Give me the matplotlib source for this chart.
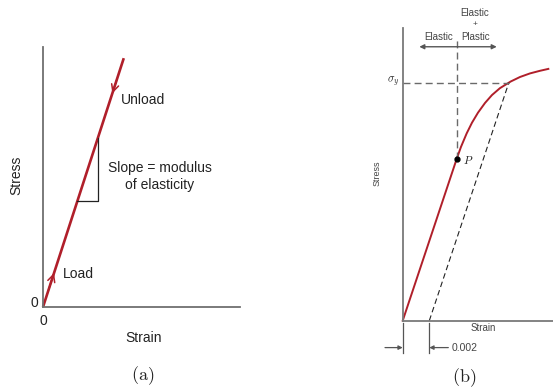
import matplotlib
matplotlib.use("Agg")
import matplotlib.pyplot as plt

plt.rcParams['font.family'] = ['Liberation Sans', 'DejaVu Sans']
plt.rcParams['mathtext.fontset'] = 'cm'

# ---------------- data ----------------
# Panel (a): linear elastic loading / unloading
strain_a = [0.0, 0.41]
stress_a = [0.0, 0.957]
tri_strain = [0.175, 0.278]          # slope triangle corners (strain)

# Panel (b): stress-strain curve with proportional limit P and 0.002 offset yield
strain_b = [0.0, 0.00406, 0.00438, 0.00481, 0.00521, 0.00566, 0.00619, 0.00671,
            0.00731, 0.00812, 0.00882, 0.00957, 0.01032, 0.01095]
stress_b = [0.0, 0.680, 0.730, 0.787, 0.832, 0.874, 0.915, 0.948,
            0.977, 1.005, 1.024, 1.039, 1.050, 1.058]
P_strain, P_stress = 0.00406, 0.680
sigma_y = 1.0
yield_strain = 0.00798
offset = 0.002

RED = '#b01f2a'
GRAY = '#707070'

fig = plt.figure(figsize=(5.53, 3.91), dpi=100)

# ---------------- panel (a) ----------------
W, H = 553.0, 391.0
ax = fig.add_axes([43 / W, (H - 307) / H, 197 / W, 260 / H])
ax.set_xlim(0, 1)
ax.set_ylim(0, 1)
for s in ['top', 'right']:
    ax.spines[s].set_visible(False)
for s in ['left', 'bottom']:
    ax.spines[s].set_color(GRAY)
    ax.spines[s].set_linewidth(1.3)
ax.set_xticks([])
ax.set_yticks([])
ax.patch.set_alpha(0)

ax.plot(strain_a, stress_a, color=RED, lw=1.9, clip_on=False, solid_capstyle='butt')
slope = stress_a[1] / strain_a[1]
x0, x1 = tri_strain
ax.plot([x0, x1, x1], [slope * x0, slope * x0, slope * x1], color='#222222', lw=0.9)

# direction chevrons
def chevron(axis, xa, xb, color, ms, lw):
    axis.annotate('', xy=(xb, slope * xb), xytext=(xa, slope * xa),
                  arrowprops=dict(arrowstyle='->', color=color, lw=lw,
                                  mutation_scale=ms, shrinkA=0, shrinkB=0))
chevron(ax, 0.375, 0.352, RED, 13, 1.1)
chevron(ax, 0.028, 0.056, RED, 13, 1.1)

fs = 10
ax.text(0.394, 0.796, 'Unload', fontsize=fs, ha='left', va='center', color='#222222')
ax.text(0.594, 0.503, 'Slope = modulus\nof elasticity', fontsize=fs, ha='center',
        va='center', multialignment='center', linespacing=1.25, color='#222222')
ax.text(0.102, 0.127, 'Load', fontsize=fs, ha='left', va='center', color='#222222')
ax.text(-0.044, 0.017, '0', fontsize=fs, ha='center', va='center', color='#222222', clip_on=False)
ax.text(0.0, -0.054, '0', fontsize=fs, ha='center', va='center', color='#222222', clip_on=False)
ax.text(0.513, -0.118, 'Strain', fontsize=fs, ha='center', va='center', color='#222222')
ax.text(-0.134, 0.508, 'Stress', fontsize=fs, ha='center', va='center', rotation=90, color='#222222')
ax.text(0.508, -0.265, r'$\mathrm{(a)}$', fontsize=13, ha='center', va='center', color='#222222')

# ---------------- panel (b) ----------------
px_strain = offset / 26.6      # strain per pixel
px_stress = 1.0 / 238.0        # stress per pixel
bx = fig.add_axes([402.7 / W, (H - 320.7) / H, 150.3 / W, 292.4 / H])
bx.set_xlim(0, 150.3 * px_strain)
bx.set_ylim(0, 292.4 * px_stress)
for s in ['top', 'right']:
    bx.spines[s].set_visible(False)
for s in ['left', 'bottom']:
    bx.spines[s].set_color('#7a7a7a')
    bx.spines[s].set_linewidth(1.3)
bx.set_xticks([])
bx.set_yticks([])
bx.patch.set_alpha(0)

DG = '#6a6a6a'
bx.plot(strain_b, stress_b, color=RED, lw=1.4, clip_on=False)
bx.plot([offset, yield_strain], [0, sigma_y], color='#222222', lw=0.8,
        ls=(0, (5, 3)))
bx.plot([0, yield_strain], [sigma_y, sigma_y], color=DG, lw=1.0, ls=(0, (5, 3)))
bx.plot([P_strain, P_strain], [P_stress, 1.188], color=DG, lw=1.0, ls=(0, (5, 3)),
        clip_on=False)
bx.plot([P_strain], [P_stress], 'o', color='black', ms=3.5)

fb = 7
bx.annotate('', xy=(0.00125, 1.151), xytext=(0.00707, 1.151),
            arrowprops=dict(arrowstyle='<|-|>', color='#555555', lw=1.0,
                            mutation_scale=7, shrinkA=0, shrinkB=0),
            annotation_clip=False)
bx.text(0.00544, 1.294, 'Elastic', fontsize=fb, ha='center', va='center', color='#444444')
bx.text(0.00544, 1.246, '+', fontsize=fb - 1, ha='center', va='center', color='#444444')
bx.text(0.00376, 1.193, 'Elastic', fontsize=fb, ha='right', va='center', color='#444444')
bx.text(0.00438, 1.193, 'Plastic', fontsize=fb, ha='left', va='center', color='#444444')
bx.text(-0.00028, sigma_y + 0.004, r'$\sigma_y$', fontsize=8, ha='right', va='center', color='#222222')
bx.text(0.00455, P_stress - 0.005, r'$P$', fontsize=8, ha='left', va='center', color='#222222')
bx.text(-0.0019, 0.62, 'Stress', fontsize=fb - 0.5, ha='center', va='center', rotation=90, color='#444444')
bx.text(0.00602, -0.032, 'Strain', fontsize=fb, ha='center', va='center', color='#444444')

# 0.002 offset dimension
for xv in [0.0, offset]:
    bx.plot([xv, xv], [-0.0097, -0.134], color='#555555', lw=0.9, clip_on=False)
bx.annotate('', xy=(0.0, -0.113), xytext=(-0.00133, -0.113),
            arrowprops=dict(arrowstyle='-|>', color='#555555', lw=0.9,
                            mutation_scale=6, shrinkA=0, shrinkB=0),
            annotation_clip=False)
bx.annotate('', xy=(offset, -0.113), xytext=(0.00343, -0.113),
            arrowprops=dict(arrowstyle='-|>', color='#555555', lw=0.9,
                            mutation_scale=6, shrinkA=0, shrinkB=0),
            annotation_clip=False)
bx.text(0.00368, -0.113, '0.002', fontsize=fb + 0.5, ha='left', va='center', color='#444444')
bx.text(0.00461, -0.241, r'$\mathrm{(b)}$', fontsize=13, ha='center', va='center', color='#222222')

fig.savefig('out.png', dpi=100)
